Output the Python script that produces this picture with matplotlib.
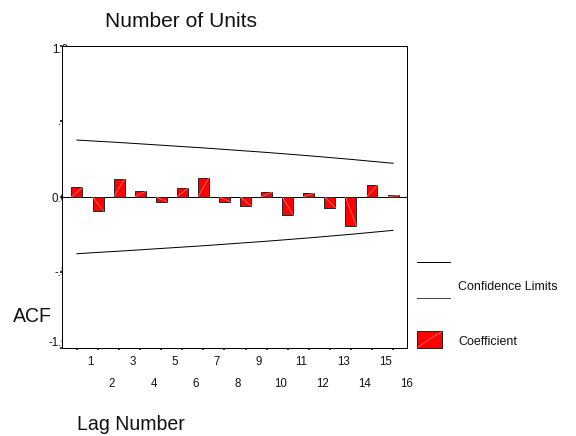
import matplotlib
matplotlib.use('Agg')
import matplotlib.pyplot as plt
from matplotlib.lines import Line2D
from matplotlib.patches import Rectangle
from matplotlib.transforms import blended_transform_factory

# ---- data ----
lags = list(range(1, 17))
acf = [0.062, -0.095, 0.117, 0.037, -0.033, 0.055, 0.124, -0.033,
       -0.060, 0.031, -0.122, 0.024, -0.073, -0.195, 0.077, 0.009]
upper = [0.376, 0.368, 0.360, 0.351, 0.342, 0.333, 0.324, 0.314,
         0.304, 0.294, 0.283, 0.272, 0.260, 0.248, 0.235, 0.222]
lower = [-0.378, -0.369, -0.361, -0.352, -0.343, -0.334, -0.325, -0.315,
         -0.305, -0.295, -0.284, -0.273, -0.261, -0.249, -0.236, -0.223]
ytick_vals = [1.0, 0.5, 0.0, -0.5, -1.0]
ytick_labels = ['1.0', '.5', '0.0', '-.5', '-1.0']
xtick_labels = [str(l) for l in lags]

plt.rcParams['font.family'] = ['Liberation Sans', 'DejaVu Sans']

W, H = 576, 436
fig = plt.figure(figsize=(W / 72, H / 72), dpi=72)
fig.patch.set_facecolor('white')

ax = fig.add_axes([62 / W, 1 - 347.5 / H, (407 - 62) / W, (347.5 - 46) / H])
ax.set_facecolor('white')
ax.set_xlim(0.29, 16.66)
ax.set_ylim(-1, 1)

bw = 0.52
ax.bar(lags, acf, width=bw, color='#ff0000', edgecolor='#2a2a2a',
       linewidth=1, zorder=3)
for x, v in zip(lags, acf):
    ax.plot([x - bw / 2, x + bw / 2], [0, v], color='#ff9a9a', lw=0.6,
            zorder=4)
ax.axhline(0, color='black', lw=1, zorder=2)
ax.plot(lags, upper, color='black', lw=1, zorder=2)
ax.plot(lags, lower, color='black', lw=1, zorder=2)

ax.set_xticks(lags)
ax.set_xticklabels([])
ax.set_yticks(ytick_vals)
ax.set_yticklabels([])
ax.tick_params(direction='out', length=2, width=1.5, color='black')
for s in ax.spines.values():
    s.set_linewidth(1)
    s.set_color('black')

# x tick labels (staggered, shifted right of the ticks)
tr = blended_transform_factory(ax.transData, fig.transFigure)
for i, (x, lab) in enumerate(zip(lags, xtick_labels)):
    base = 365 if i % 2 == 0 else 387
    ax.text(x + 0.64, 1 - base / H, lab, transform=tr, ha='center',
            va='baseline', fontsize=11.5, color='#111111', clip_on=False)

# y tick labels (partly hidden behind the plot area)
ybases = [53, 125, 201.7, 275.5, 345.7]
for lab, b in zip(ytick_labels, ybases):
    fig.text(68 / W, 1 - b / H, lab, ha='right', va='baseline',
             fontsize=11.5, color='#111111', zorder=-1)

# titles
fig.text(105 / W, 1 - 27 / H, 'Number of Units', ha='left', va='baseline',
         fontsize=21, color='#111111')
fig.text(12.5 / W, 1 - 322 / H, 'ACF', ha='left', va='baseline',
         fontsize=19.5, color='#111111')
fig.text(77 / W, 1 - 430 / H, 'Lag Number', ha='left', va='baseline',
         fontsize=19.5, color='#111111')

# legend
fig.add_artist(Line2D([417 / W, 450 / W], [1 - 262 / H] * 2,
                      transform=fig.transFigure, color='black', lw=1))
fig.add_artist(Line2D([417 / W, 450 / W], [1 - 298 / H] * 2,
                      transform=fig.transFigure, color='#444444', lw=1))
fig.text(458 / W, 1 - 290 / H, 'Confidence Limits', ha='left',
         va='baseline', fontsize=12.5, color='#111111')
fig.add_artist(Rectangle((417 / W, 1 - 348 / H), 25 / W, 17 / H,
                         transform=fig.transFigure, facecolor='#ff0000',
                         edgecolor='#222222', lw=1))
fig.add_artist(Line2D([418 / W, 441 / W], [1 - 347 / H, 1 - 332 / H],
                      transform=fig.transFigure, color='#ff9a9a', lw=0.6))
fig.text(458 / W, 1 - 345 / H, 'Coefficient', ha='left',
         va='baseline', fontsize=12.5, color='#111111')

fig.savefig('out.png', dpi=72, facecolor='white')
